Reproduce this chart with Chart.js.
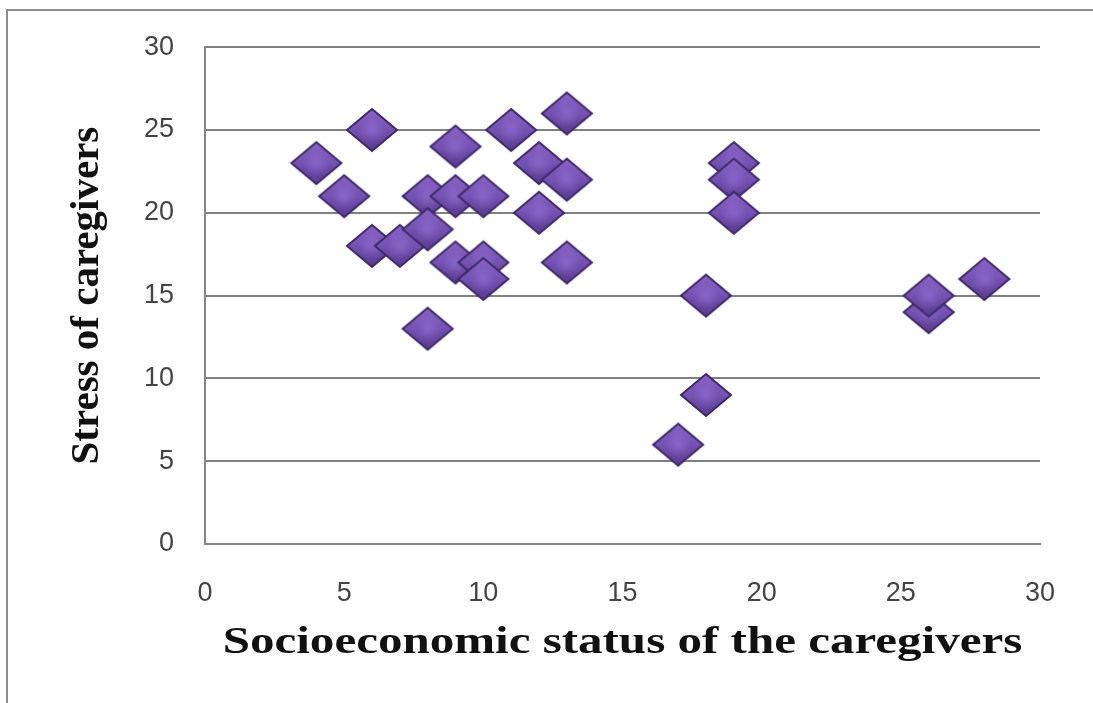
<!DOCTYPE html>
<html>
<head>
<meta charset="utf-8">
<script src="https://cdn.jsdelivr.net/npm/chart.js@4.4.1/dist/chart.umd.min.js"></script>
<style>
  html, body { margin: 0; padding: 0; background: #fff; }
  #wrap { position: absolute; left: 0; top: 0; width: 1093px; height: 703px; }
  #frame { position: absolute; left: 6px; top: 9px; width: 1100px; height: 710px;
           border-left: 2px solid #8c8c8c; border-top: 2px solid #8c8c8c; }
</style>
</head>
<body>
<div id="frame"></div>
<div id="wrap"><canvas id="chart" width="1093" height="703"></canvas></div>
<script>
// socioeconomic status (x) and stress score (y), one entry per caregiver
const sesValues = [4, 5, 6, 6, 7, 8, 8, 8, 9, 9, 9, 10, 10, 10, 11, 12, 12, 13, 13, 13, 17, 18, 18, 19, 19, 19, 26, 26, 28];
const stressValues = [23, 21, 25, 18, 18, 21, 19, 13, 24, 21, 17, 21, 17, 16, 25, 23, 20, 26, 22, 17, 6, 9, 15, 23, 22, 20, 14, 15, 16];
const tickValues = [0, 5, 10, 15, 20, 25, 30];

const xTitle = 'Socioeconomic status of the caregivers';
const yTitle = 'Stress of caregivers';

// bevelled purple diamond used as the marker
function makeDiamond(w, h) {
    const c = document.createElement('canvas');
    c.width = w;
    c.height = h;
    const g = c.getContext('2d');
    const path = () => {
        g.beginPath();
        g.moveTo(w / 2, 2);
        g.lineTo(w - 2, h / 2);
        g.lineTo(w / 2, h - 2);
        g.lineTo(2, h / 2);
        g.closePath();
    };
    path();
    const grad = g.createLinearGradient(0, 0, 0, h);
    grad.addColorStop(0, '#8a66c6');
    grad.addColorStop(0.5, '#7452b2');
    grad.addColorStop(1, '#553889');
    g.fillStyle = grad;
    g.fill();
    g.lineWidth = 2;
    g.strokeStyle = '#3e2869';
    g.stroke();
    // small highlight in the middle
    const rg = g.createRadialGradient(w / 2, h / 2, 1, w / 2, h / 2, w / 4);
    rg.addColorStop(0, 'rgba(150,115,215,0.55)');
    rg.addColorStop(1, 'rgba(150,115,215,0)');
    g.fillStyle = rg;
    path();
    g.fill();
    return c;
}

const diamond = makeDiamond(54, 46);

const points = sesValues.map((x, i) => ({ x: x, y: stressValues[i] }));

const tickFont = { family: '"Liberation Sans", Arial, sans-serif', size: 27 };
const serif = '"Liberation Serif", "Times New Roman", serif';

// the x title in the picture is drawn wider than normal, so stretch it sideways
const wideTitle = {
    id: 'wideTitle',
    afterDraw(chart) {
        const ctx = chart.ctx;
        const x = chart.scales.x;
        ctx.save();
        ctx.translate((x.left + x.right) / 2, 653);
        ctx.scale(1.29, 1);
        ctx.font = 'bold 38px ' + serif;
        ctx.fillStyle = '#111';
        ctx.textAlign = 'center';
        ctx.textBaseline = 'alphabetic';
        ctx.fillText(xTitle, 0, 0);
        ctx.restore();
    }
};

new Chart(document.getElementById('chart'), {
    type: 'scatter',
    data: {
        datasets: [{
            data: points,
            pointStyle: diamond,
            clip: false
        }]
    },
    options: {
        responsive: false,
        animation: false,
        layout: { padding: { left: 0, right: 53, top: 46, bottom: 0 } },
        plugins: {
            legend: { display: false },
            tooltip: { enabled: false }
        },
        scales: {
            x: {
                type: 'linear',
                min: 0,
                max: 30,
                afterBuildTicks: (axis) => { axis.ticks = tickValues.map(v => ({ value: v })); },
                afterFit: (axis) => { axis.height = 159; },
                grid: { display: false },
                border: { display: true, color: '#868686', width: 2 },
                ticks: { color: '#444', font: tickFont, padding: 25, maxRotation: 0 }
            },
            y: {
                type: 'linear',
                min: 0,
                max: 30,
                afterBuildTicks: (axis) => { axis.ticks = tickValues.map(v => ({ value: v })); },
                afterFit: (axis) => { axis.width = 205; },
                grid: { color: '#808080', lineWidth: 2, drawTicks: false, tickLength: 0 },
                border: { display: true, color: '#868686', width: 2 },
                ticks: { color: '#444', font: tickFont, padding: 31 },
                title: {
                    display: true,
                    text: yTitle,
                    color: '#111',
                    font: { family: serif, weight: 'bold', size: 41 },
                    padding: { top: 63, bottom: 0 }
                }
            }
        }
    },
    plugins: [wideTitle]
});
</script>
</body>
</html>
